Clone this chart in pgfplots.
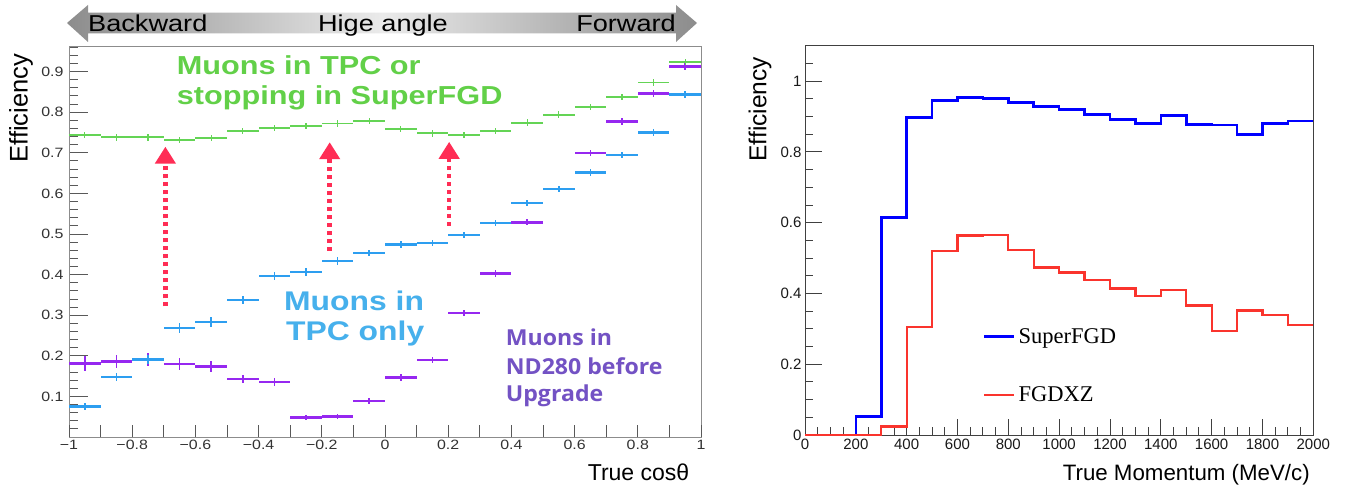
\documentclass[border=0pt]{standalone}
\usepackage{fontspec}
\usepackage{pgfplots}
\usepackage{pgfplotstable}
\pgfplotsset{compat=1.18}
\usetikzlibrary{arrows.meta}
\setmainfont{Liberation Sans}
\newfontfamily\lsans[FakeStretch=1.18]{Liberation Sans}
\newfontfamily\osans[FakeStretch=1.05]{Open Sans}
\newfontfamily\rserif{Liberation Serif}
\newcommand{\fs}[1]{\fontsize{#1}{#1}\selectfont}

\definecolor{cgreen}{RGB}{100,212,85}
\definecolor{cgreentxt}{RGB}{98,208,72}
\definecolor{cblue}{RGB}{45,158,240}
\definecolor{cbluetxt}{RGB}{70,176,236}
\definecolor{cpurple}{RGB}{150,40,240}
\definecolor{cpurpletxt}{RGB}{115,82,196}
\definecolor{carrow}{RGB}{255,45,85}
\definecolor{hred}{RGB}{250,52,45}

\pgfplotstableread{
x y e
-0.95 0.744 0.008
-0.85 0.738 0.008
-0.75 0.738 0.008
-0.65 0.731 0.008
-0.55 0.736 0.008
-0.45 0.754 0.008
-0.35 0.761 0.008
-0.25 0.766 0.008
-0.15 0.772 0.008
-0.05 0.778 0.008
0.05 0.759 0.008
0.15 0.748 0.008
0.25 0.744 0.008
0.35 0.754 0.008
0.45 0.774 0.008
0.55 0.794 0.008
0.65 0.813 0.008
0.75 0.837 0.008
0.85 0.873 0.008
0.95 0.923 0.008
}\greendata

\pgfplotstableread{
x y e
-0.95 0.075 0.008
-0.85 0.148 0.009
-0.75 0.191 0.012
-0.65 0.268 0.012
-0.55 0.283 0.012
-0.45 0.338 0.010
-0.35 0.396 0.010
-0.25 0.406 0.010
-0.15 0.433 0.010
-0.05 0.453 0.008
0.05 0.474 0.008
0.15 0.478 0.008
0.25 0.498 0.008
0.35 0.527 0.008
0.45 0.576 0.008
0.55 0.611 0.008
0.65 0.651 0.008
0.75 0.695 0.008
0.85 0.750 0.008
0.95 0.844 0.008
}\bluedata

\pgfplotstableread{
x y e
-0.95 0.181 0.018
-0.85 0.186 0.016
-0.75 0.190 0.016
-0.65 0.180 0.014
-0.55 0.173 0.013
-0.45 0.143 0.010
-0.35 0.135 0.010
-0.25 0.048 0.006
-0.15 0.051 0.006
-0.05 0.089 0.008
0.05 0.146 0.008
0.15 0.190 0.008
0.25 0.305 0.008
0.35 0.403 0.008
0.45 0.529 0.008
0.55 0.611 0.008
0.65 0.699 0.008
0.75 0.777 0.008
0.85 0.846 0.008
0.95 0.913 0.008
}\purpledata

\pgfplotstableread{
x y
0 0
100 0
200 0.052
300 0.614
400 0.897
500 0.945
600 0.953
700 0.951
800 0.940
900 0.928
1000 0.919
1100 0.906
1200 0.892
1300 0.881
1400 0.903
1500 0.877
1600 0.876
1700 0.849
1800 0.880
1900 0.887
2000 0.887
}\sfgd

\pgfplotstableread{
x y
0 0
100 0
200 0
300 0.024
400 0.306
500 0.520
600 0.564
700 0.565
800 0.523
900 0.473
1000 0.459
1100 0.437
1200 0.414
1300 0.393
1400 0.409
1500 0.366
1600 0.294
1700 0.352
1800 0.339
1900 0.310
2000 0.310
}\fgdxz

\pgfplotsset{
  hbar/.style 2 args={draw=none, mark=none, forget plot,
    error bars/.cd, x dir=both, x fixed=0.05, error mark=none,
    error bar style={draw=#1, line width=#2}},
  vbar/.style 2 args={draw=none, mark=none, forget plot,
    error bars/.cd, y dir=both, y explicit, error mark=none,
    error bar style={draw=#1, line width=#2}},
}

\begin{document}
\begin{tikzpicture}[x=1pt,y=1pt]
\path[use as bounding box, fill=white] (0,0) rectangle (1347,488);

% banner
\shade[left color=black!45, right color=black!45, middle color=black!8]
  (67,465) -- (88,483) -- (88,475.3) -- (676,475.3) -- (676,483) -- (697,465)
  -- (676,446) -- (676,454.7) -- (88,454.7) -- (88,446) -- cycle;
\node[anchor=base west, inner sep=0pt, font=\lsans\fs{23}] at (88,456.3) {Backward};
\node[anchor=base, inner sep=0pt, font=\lsans\fs{23}] at (383,456.3) {Hige angle};
\node[anchor=base east, inner sep=0pt, font=\lsans\fs{23}] at (676,456.3) {Forward};

\begin{axis}[
  at={(69pt,51pt)}, anchor=south west,
  scale only axis, width=632pt, height=391pt,
  xmin=-1, xmax=1, ymin=0, ymax=0.963,
  axis line style={draw=black!45, line width=0.9pt},
  tick align=inside, tick pos=left,
  major tick length=19pt, minor tick length=9pt,
  every tick/.style={black!65, line width=0.9pt},
  xtick=\empty,
  extra x ticks={-1,-0.9,-0.8,-0.7,-0.6,-0.5,-0.4,-0.3,-0.2,-0.1,0,0.1,0.2,0.3,0.4,0.5,0.6,0.7,0.8,0.9,1},
  extra x tick labels={−1,,−0.8,,−0.6,,−0.4,,−0.2,,0,,0.2,,0.4,,0.6,,0.8,,1},
  extra x tick style={major tick length=12pt},
  minor xtick={-0.95,-0.85,-0.75,-0.65,-0.55,-0.45,-0.35,-0.25,-0.15,-0.05,0.05,0.15,0.25,0.35,0.45,0.55,0.65,0.75,0.85,0.95},
  ytick={0,0.1,0.2,0.3,0.4,0.5,0.6,0.7,0.8,0.9},
  yticklabels={,0.1,0.2,0.3,0.4,0.5,0.6,0.7,0.8,0.9},
  minor ytick={0.02,0.04,0.06,0.08,0.12,0.14,0.16,0.18,0.22,0.24,0.26,0.28,0.32,0.34,0.36,0.38,0.42,0.44,0.46,0.48,0.52,0.54,0.56,0.58,0.62,0.64,0.66,0.68,0.72,0.74,0.76,0.78,0.82,0.84,0.86,0.88,0.92,0.94,0.96},
  tick label style={font=\lsans\fs{13.5}, text=black!80},
  yticklabel style={xshift=-2pt},
  ylabel={Efficiency},
  ylabel style={at={(axis description cs:-0.076,0.841)}, anchor=center, rotate=0, font=\fs{25.5}},
  xlabel={True cosθ},
  xlabel style={at={(axis description cs:0.987,-0.110)}, anchor=base east, font=\fs{23}},
  clip=false,
]
% purple
\addplot[hbar={cpurple}{2.6pt}] table[x=x,y=y]{\purpledata};
\addplot[vbar={cpurple}{1.6pt}] table[x=x,y=y,y error=e]{\purpledata};
% blue
\addplot[hbar={cblue}{2.4pt}] table[x=x,y=y]{\bluedata};
\addplot[vbar={cblue}{1.5pt}] table[x=x,y=y,y error=e]{\bluedata};
% green
\addplot[hbar={cgreen}{1.8pt}] table[x=x,y=y]{\greendata};
\addplot[vbar={cgreen}{1.3pt}] table[x=x,y=y,y error=e]{\greendata};

% arrows
\draw[carrow, line width=4.5pt, dash pattern=on 4pt off 4pt, -{Triangle[width=20pt,length=17pt]}]
  (axis cs:-0.695,0.322) -- (axis cs:-0.695,0.715);
\draw[carrow, line width=4.5pt, dash pattern=on 4pt off 4pt, -{Triangle[width=20pt,length=17pt]}]
  (axis cs:-0.175,0.459) -- (axis cs:-0.175,0.726);
\draw[carrow, line width=4.5pt, dash pattern=on 4pt off 4pt, -{Triangle[width=20pt,length=17pt]}]
  (axis cs:0.203,0.520) -- (axis cs:0.203,0.727);
\end{axis}

% annotation texts
\node[anchor=base west, inner sep=0pt, text=cgreentxt, font=\lsans\bfseries\fs{26}] at (176.7,413) {Muons in TPC or};
\node[anchor=base west, inner sep=0pt, text=cgreentxt, font=\lsans\bfseries\fs{26}] at (176.7,383) {stopping in SuperFGD};
\node[anchor=base west, inner sep=0pt, text=cbluetxt, font=\lsans\bfseries\fs{27}] at (284,178) {Muons in};
\node[anchor=base west, inner sep=0pt, text=cbluetxt, font=\lsans\bfseries\fs{27}] at (286,148) {TPC only};
\node[anchor=base west, inner sep=0pt, text=cpurpletxt, font=\osans\bfseries\fs{22}] at (505.7,143) {Muons in};
\node[anchor=base west, inner sep=0pt, text=cpurpletxt, font=\osans\bfseries\fs{22}] at (505.7,114) {ND280 before};
\node[anchor=base west, inner sep=0pt, text=cpurpletxt, font=\osans\bfseries\fs{22}] at (505.7,86.3) {Upgrade};

\begin{axis}[
  at={(805pt,53pt)}, anchor=south west,
  scale only axis, width=508.3pt, height=389.3pt,
  xmin=0, xmax=2000, ymin=0, ymax=1.1,
  axis line style={draw=black!75, line width=0.9pt},
  tick align=inside, tick pos=left,
  major tick length=16.5pt, minor tick length=8.3pt,
  every tick/.style={black!75, line width=0.9pt},
  xtick={0,200,400,600,800,1000,1200,1400,1600,1800,2000},
  xticklabels={0,200,400,600,800,1000,1200,1400,1600,1800,2000},
  minor xtick={50,100,150,250,300,350,450,500,550,650,700,750,850,900,950,1050,1100,1150,1250,1300,1350,1450,1500,1550,1650,1700,1750,1850,1900,1950},
  ytick={0,0.2,0.4,0.6,0.8,1},
  yticklabels={0,0.2,0.4,0.6,0.8,1},
  minor ytick={0.05,0.1,0.15,0.25,0.3,0.35,0.45,0.5,0.55,0.65,0.7,0.75,0.85,0.9,0.95,1.05},
  tick label style={font=\fs{15}, text=black!90},
  ylabel={Efficiency},
  ylabel style={at={(axis description cs:-0.0885,0.837)}, anchor=center, rotate=0, font=\fs{24.5}},
  xlabel={True Momentum (MeV/c)},
  xlabel style={at={(axis description cs:1.0,-0.1156)}, anchor=base east, font=\fs{22.3}},
  legend style={at={(axis description cs:0.350,0.2826)}, anchor=north west, draw=none, fill=none,
    font=\rserif\fs{22.5}, row sep=36pt, inner sep=0pt, nodes={inner sep=3pt}},
  legend cell align=left,
  legend image code/.code={\draw[#1] (0pt,0pt) -- (30pt,0pt);},
]
\addplot[const plot, draw=blue, line width=2.6pt] table[x=x,y=y]{\sfgd};
\addlegendentry{SuperFGD}
\addplot[const plot, draw=hred, line width=2.3pt] table[x=x,y=y]{\fgdxz};
\addlegendentry{FGDXZ}
\end{axis}
\end{tikzpicture}
\end{document}
